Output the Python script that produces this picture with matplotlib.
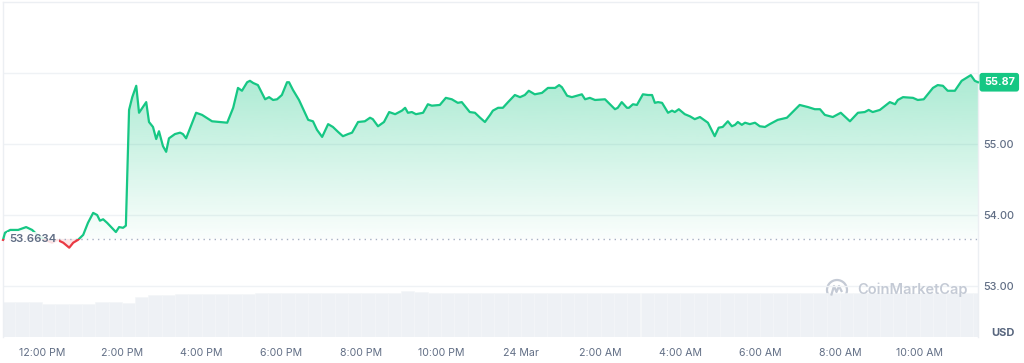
import numpy as np
import matplotlib
matplotlib.use("Agg")
import matplotlib.pyplot as plt
from matplotlib.patches import Polygon, Rectangle, Circle
from matplotlib.lines import Line2D

plt.rcParams['font.family'] = ['Inter', 'DejaVu Sans']

# ---------------- data ----------------
# time in hours since 00:00 on 23 Mar (values > 24 are on 24 Mar)
times = [11.02, 11.07, 11.20, 11.40, 11.60, 11.75, 11.90, 12.08, 12.25, 12.38,
         12.53, 12.68, 12.78, 12.90, 13.03, 13.15, 13.28, 13.38, 13.45, 13.53,
         13.63, 13.75, 13.85, 13.93, 14.03, 14.10, 14.18, 14.26, 14.36, 14.43,
         14.61, 14.68, 14.78, 14.86, 14.93, 15.03, 15.11, 15.18, 15.33, 15.46,
         15.53, 15.61, 15.86, 16.01, 16.26, 16.64, 16.79, 16.91, 17.01, 17.14,
         17.21, 17.29, 17.41, 17.59, 17.69, 17.79, 17.89, 18.01, 18.14, 18.19,
         18.29, 18.44, 18.67, 18.79, 18.89, 19.02, 19.17, 19.29, 19.42, 19.54,
         19.67, 19.77, 19.92, 20.09, 20.22, 20.29, 20.42, 20.57, 20.70, 20.85,
         21.02, 21.10, 21.17, 21.27, 21.37, 21.55, 21.67, 21.77, 21.97, 22.12,
         22.27, 22.42, 22.52, 22.72, 22.85, 22.98, 23.10, 23.23, 23.30, 23.43,
         23.55, 23.68, 23.85, 23.98, 24.10, 24.20, 24.35, 24.53, 24.68, 24.86,
         24.96, 25.03, 25.16, 25.28, 25.53, 25.61, 25.73, 25.86, 26.11, 26.36,
         26.43, 26.53, 26.66, 26.71, 26.81, 26.91, 27.06, 27.19, 27.29, 27.36,
         27.44, 27.54, 27.69, 27.79, 27.86, 27.96, 28.11, 28.24, 28.36, 28.49,
         28.69, 28.86, 28.96, 29.06, 29.19, 29.29, 29.37, 29.44, 29.54, 29.62,
         29.74, 29.87, 29.99, 30.12, 30.24, 30.44, 30.67, 30.99, 31.20, 31.37,
         31.50, 31.62, 31.82, 32.02, 32.25, 32.45, 32.62, 32.72, 32.82, 33.00,
         33.25, 33.38, 33.45, 33.58, 33.83, 33.95, 34.10, 34.33, 34.45, 34.58,
         34.70, 34.88, 35.05, 35.28, 35.38, 35.46]

prices = [53.65, 53.75, 53.79, 53.79, 53.83, 53.79, 53.71, 53.65, 53.61, 53.65,
          53.61, 53.54, 53.61, 53.65, 53.72, 53.89, 54.03, 54.00, 53.92, 53.94,
          53.89, 53.82, 53.76, 53.83, 53.82, 53.85, 55.48, 55.66, 55.82, 55.44,
          55.59, 55.31, 55.24, 55.07, 55.18, 54.97, 54.89, 55.08, 55.14, 55.16,
          55.14, 55.08, 55.44, 55.41, 55.32, 55.30, 55.51, 55.79, 55.75, 55.87,
          55.89, 55.86, 55.83, 55.63, 55.66, 55.62, 55.63, 55.69, 55.87, 55.87,
          55.76, 55.62, 55.34, 55.32, 55.20, 55.10, 55.28, 55.24, 55.17, 55.11,
          55.14, 55.16, 55.31, 55.32, 55.37, 55.35, 55.25, 55.31, 55.45, 55.42,
          55.47, 55.51, 55.44, 55.45, 55.42, 55.44, 55.56, 55.54, 55.55, 55.65,
          55.63, 55.58, 55.59, 55.45, 55.44, 55.37, 55.31, 55.41, 55.47, 55.51,
          55.51, 55.59, 55.69, 55.66, 55.69, 55.75, 55.70, 55.72, 55.79, 55.79,
          55.83, 55.80, 55.68, 55.66, 55.70, 55.63, 55.65, 55.62, 55.63, 55.49,
          55.51, 55.59, 55.51, 55.51, 55.56, 55.55, 55.70, 55.69, 55.69, 55.58,
          55.59, 55.58, 55.44, 55.47, 55.45, 55.49, 55.42, 55.39, 55.35, 55.38,
          55.30, 55.11, 55.23, 55.24, 55.32, 55.25, 55.27, 55.31, 55.27, 55.30,
          55.28, 55.30, 55.25, 55.24, 55.28, 55.34, 55.37, 55.55, 55.52, 55.49,
          55.49, 55.41, 55.38, 55.44, 55.32, 55.44, 55.45, 55.48, 55.45, 55.48,
          55.59, 55.56, 55.62, 55.66, 55.65, 55.62, 55.63, 55.79, 55.83, 55.82,
          55.75, 55.75, 55.89, 55.97, 55.89, 55.87]

baseline = 53.6634
last_price = 55.87

# 24h volume bars, one every 20 minutes starting at 11:00 (arbitrary units)
vol_start = 11.0
vol_step = 1.0 / 3.0
volumes = [52.2, 52.2, 51.5, 50.0, 50.0, 50.0, 50.0, 51.5, 52.2, 50.7,
           59.7, 62.7, 63.4, 64.2, 64.5, 64.5, 64.5, 64.5, 64.5, 65.7,
           65.7, 65.7, 65.7, 65.7, 65.7, 65.7, 65.7, 65.7, 65.7, 65.7,
           68.7, 67.9, 66.4, 66.4, 66.4, 66.4, 66.4, 66.4, 66.4, 66.4,
           66.4, 65.0, 65.0, 65.0, 65.0, 65.0, 65.0, 65.0, 65.0, 65.0,
           65.0, 65.0, 65.0, 65.0, 65.0, 65.0, 65.0, 65.0, 65.0, 65.0,
           65.0, 65.0, 65.0, 65.0, 65.0, 65.0, 65.0, 65.0, 65.0, 65.0,
           65.0, 65.0, 65.0, 65.0]

tick_hours = [12, 14, 16, 18, 20, 22, 24, 26, 28, 30, 32, 34]
tick_labels = ['12:00 PM', '2:00 PM', '4:00 PM', '6:00 PM', '8:00 PM', '10:00 PM',
               '24 Mar', '2:00 AM', '4:00 AM', '6:00 AM', '8:00 AM', '10:00 AM']
y_ticks = [53, 54, 55]
y_tick_labels = ['53.00', '54.00', '55.00']

# ---------------- style ----------------
GREEN = '#16c784'
RED = '#ea3943'
TXT = '#616e85'
GRID = '#eff2f5'

t = np.array(times)
p = np.array(prices)

fig = plt.figure(figsize=(10.24, 3.63), dpi=100)
W, H = 1024, 363
ax = fig.add_axes([3 / W, 1 - 337 / H, 975 / W, 335 / H])
axv = ax.twinx()
ax.set_zorder(2)
ax.patch.set_visible(False)
axv.set_zorder(1)

x0, x1 = t[0], t[-1]
ax.set_xlim(x0, x1)
ax.set_ylim(52.282, 57.0)

# volume bars
vt = vol_start + vol_step * np.arange(len(volumes)) + vol_step / 2
axv.bar(vt, volumes, width=vol_step, color='#eef1f5', edgecolor='#f4f6f8',
        linewidth=0.4)
axv.set_ylim(0, 500)
axv.set_yticks([])
for s in axv.spines.values():
    s.set_visible(False)

# gridlines
for g in [53, 54, 55, 56]:
    ax.axhline(g, color=GRID, lw=1.0, zorder=0)

# gradient fill above baseline
pa = np.maximum(p, baseline)
poly = Polygon([(x0, baseline)] + list(zip(t, pa)) + [(x1, baseline)],
               closed=True, facecolor='none', edgecolor='none')
ax.add_patch(poly)
grad = np.zeros((256, 1, 4))
grad[:, 0, 0] = 22 / 255
grad[:, 0, 1] = 199 / 255
grad[:, 0, 2] = 132 / 255
grad[:, 0, 3] = np.linspace(0.36, 0.02, 256)
im = ax.imshow(grad, extent=[x0, x1, baseline, p.max()], origin='upper',
               aspect='auto', zorder=1, interpolation='bicubic')
im.set_clip_path(poly)

# red fill below baseline
pb = np.minimum(p, baseline)
polyr = Polygon([(x0, baseline)] + list(zip(t, pb)) + [(x1, baseline)],
                closed=True, facecolor=RED, edgecolor='none', alpha=0.12, zorder=1)
ax.add_patch(polyr)

# baseline dotted
ax.axhline(baseline, color='#a6b0c3', lw=1.0, ls=(0, (1, 3)), zorder=2)

# price line, coloured by side of baseline
lg, = ax.plot(t, p, color=GREEN, lw=1.6, zorder=3, solid_joinstyle='round')
lr, = ax.plot(t, p, color=RED, lw=1.6, zorder=3, solid_joinstyle='round')
clip_up = Rectangle((x0 - 1, baseline), x1 - x0 + 2, 10, transform=ax.transData)
clip_dn = Rectangle((x0 - 1, baseline - 10), x1 - x0 + 2, 10, transform=ax.transData)
lg.set_clip_path(clip_up)
lr.set_clip_path(clip_dn)

# baseline label
ax.text(11.18, baseline, f'{baseline:.4f}', ha='left', va='center', fontsize=8.2,
        color=TXT, fontweight='semibold', zorder=5,
        bbox=dict(boxstyle='square,pad=0.2', facecolor='white', alpha=0.85, edgecolor='none'))

# axes styling
for side in ['left', 'top', 'right']:
    ax.spines[side].set_color('#eceff3')
    ax.spines[side].set_linewidth(1.0)
ax.spines['bottom'].set_visible(False)

ax.set_xticks(tick_hours)
ax.set_xticklabels(tick_labels)
ax.tick_params(axis='x', length=0, pad=8, labelsize=7.6, labelcolor=TXT)

ax.yaxis.tick_right()
ax.set_yticks(y_ticks)
ax.set_yticklabels(y_tick_labels)
ax.tick_params(axis='y', length=0, pad=4, labelsize=7.8, labelcolor=TXT)
for lab in ax.get_yticklabels():
    lab.set_fontweight('medium')

# last price tag
ax.text(1.006, last_price, f'{last_price:.2f}', transform=ax.get_yaxis_transform(),
        ha='left', va='center', fontsize=7.8, color='white', fontweight='bold', zorder=6,
        bbox=dict(boxstyle='round,pad=0.4,rounding_size=0.25', facecolor=GREEN, edgecolor='none'),
        clip_on=False)

# USD label
fig.text(1003 / W, 1 - 333 / H, 'USD', ha='center', va='center', fontsize=8,
         color='#58667e', fontweight='bold')

# watermark
WM = '#c4cad5'
fig.text(857 / W, 1 - 290 / H, 'CoinMarketCap', ha='left', va='center', fontsize=10.5,
         color=WM, fontweight='semibold')
cx, cy, r = 837 / 100, (H - 290) / 100, 0.10
fig.add_artist(Circle((cx, cy), r, transform=fig.dpi_scale_trans, fill=False,
                      edgecolor=WM, lw=1.6))
mx = [cx - 0.055, cx - 0.03, cx - 0.005, cx + 0.02, cx + 0.045]
my = [cy - 0.045, cy + 0.04, cy - 0.02, cy + 0.04, cy - 0.01]
fig.add_artist(Line2D(mx, my, transform=fig.dpi_scale_trans, color=WM, lw=1.6,
                      solid_joinstyle='round'))

fig.savefig('out.png', dpi=100, facecolor='white')
